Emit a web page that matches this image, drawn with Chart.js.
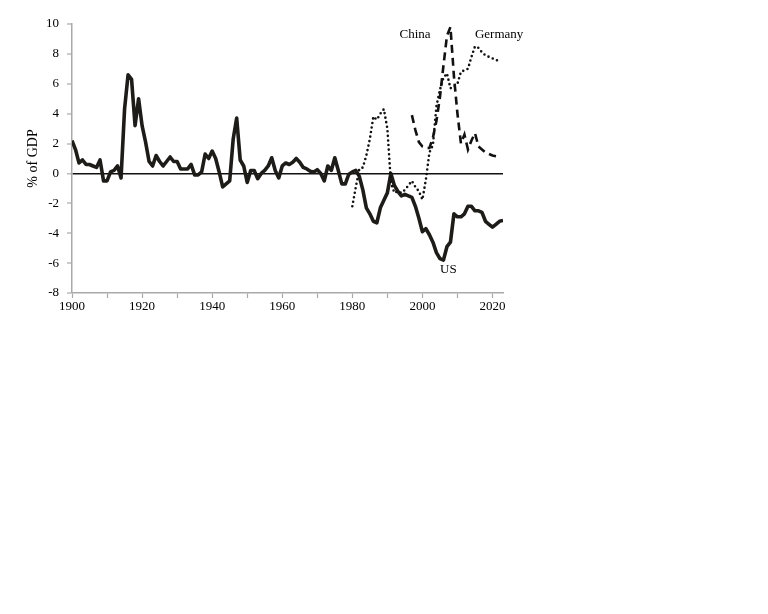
<!DOCTYPE html>
<html>
<head>
<meta charset="utf-8">
<script src="https://cdn.jsdelivr.net/npm/chart.js@4.4.1/dist/chart.umd.min.js"></script>
<style>
  html, body { margin: 0; padding: 0; background: #fff; }
  #chart { display: block; }
</style>
</head>
<body>
<canvas id="chart" width="768" height="614"></canvas>
<script>
// current account balance, % of GDP
const usStart = 1900;
const usValues = [
  2.2, 1.6, 0.7, 0.9, 0.6, 0.6, 0.5, 0.4, 0.9, -0.5,
  -0.5, 0.1, 0.2, 0.5, -0.3, 4.3, 6.6, 6.3, 3.2, 5.0,
  3.2, 2.1, 0.8, 0.5, 1.2, 0.8, 0.5, 0.8, 1.1, 0.8,
  0.8, 0.3, 0.3, 0.3, 0.6, -0.1, -0.1, 0.1, 1.3, 1.0,
  1.5, 1.0, 0.1, -0.9, -0.7, -0.5, 2.3, 3.7, 0.9, 0.5,
  -0.6, 0.2, 0.2, -0.35, 0.0, 0.2, 0.5, 1.05, 0.2, -0.3,
  0.5, 0.7, 0.6, 0.75, 1.0, 0.75, 0.4, 0.3, 0.15, 0.1,
  0.25, 0.0, -0.5, 0.5, 0.2, 1.05, 0.2, -0.7, -0.7, -0.05,
  0.1, 0.2, -0.2, -1.1, -2.3, -2.7, -3.2, -3.3, -2.3, -1.8,
  -1.3, 0.0, -0.8, -1.2, -1.5, -1.4, -1.5, -1.6, -2.2, -3.0,
  -3.9, -3.7, -4.1, -4.6, -5.3, -5.7, -5.8, -4.9, -4.6, -2.7,
  -2.9, -2.9, -2.7, -2.2, -2.2, -2.5, -2.5, -2.6, -3.2, -3.4,
  -3.6, -3.4, -3.2, -3.15
];

const germanyStart = 1980;
const germanyValues = [
  -2.2, -0.9, 0.3, 0.4, 1.2, 2.3, 3.8, 3.6, 4.0, 4.3,
  3.0, -0.6, -1.3, -1.2, -1.3, -1.1, -0.8, -0.5, -0.9, -1.2,
  -1.75, -0.4, 1.4, 1.9, 4.5, 5.6, 6.4, 6.7, 5.7, 5.8,
  6.0, 6.8, 6.9, 7.0, 7.8, 8.5, 8.4, 8.1, 7.9, 7.8,
  7.7, 7.6, 7.5
];

const chinaStart = 1997;
const chinaValues = [
  3.9, 2.9, 2.1, 1.8, 1.7, 1.7, 2.4, 3.5, 5.1, 7.2,
  9.2, 9.8, 6.5, 4.0, 2.0, 2.6, 1.6, 2.2, 2.7, 1.8,
  1.6, 1.4, 1.3, 1.2, 1.15
];

const yearTicks = [1900, 1920, 1940, 1960, 1980, 2000, 2020];

// series names written on the plot, at data coordinates
const seriesLabels = [
  { text: "China", year: 1997.9, value: 9.3 },
  { text: "Germany", year: 2021.9, value: 9.3 },
  { text: "US", year: 2007.4, value: -6.4 }
];

const serif = "'Liberation Serif', 'DejaVu Serif', serif";
const axisGray = "#a9a9a9";

function toPoints(start, values) {
  return values.map((v, i) => ({ x: start + i, y: v }));
}

const textPlugin = {
  id: "textLabels",
  afterDraw(chart) {
    const ctx = chart.ctx;
    const xs = chart.scales.x;
    const ys = chart.scales.y;
    ctx.save();
    ctx.fillStyle = "#000";
    ctx.font = "13px " + serif;
    ctx.textAlign = "center";
    ctx.textBaseline = "middle";
    seriesLabels.forEach((l) => {
      ctx.fillText(l.text, xs.getPixelForValue(l.year), ys.getPixelForValue(l.value));
    });
    // y axis title
    ctx.font = "14px " + serif;
    ctx.translate(33, (chart.chartArea.top + chart.chartArea.bottom) / 2);
    ctx.rotate(-Math.PI / 2);
    ctx.fillText("% of GDP", 0, 0);
    ctx.restore();
  },
};

new Chart(document.getElementById("chart").getContext("2d"), {
  type: "line",
  data: {
    datasets: [
      {
        label: "Germany",
        data: toPoints(germanyStart, germanyValues),
        borderColor: "#111",
        borderWidth: 2.6,
        borderDash: [0, 4.6],
        borderCapStyle: "round",
        pointRadius: 0,
        tension: 0,
      },
      {
        label: "China",
        data: toPoints(chinaStart, chinaValues),
        borderColor: "#111",
        borderWidth: 2.6,
        borderDash: [8, 5],
        pointRadius: 0,
        tension: 0,
      },
      {
        label: "US",
        data: toPoints(usStart, usValues),
        borderColor: "#1e1c18",
        borderWidth: 3.6,
        borderJoinStyle: "round",
        pointRadius: 0,
        tension: 0,
      },
    ],
  },
  options: {
    responsive: false,
    animation: false,
    events: [],
    layout: { padding: { left: 0, top: 24, right: 265, bottom: 291 } },
    scales: {
      x: {
        type: "linear",
        min: 1900,
        max: 2023,
        afterFit: (s) => { s.height = 30; },
        afterBuildTicks: (s) => {
          const t = [];
          for (let y = 1900; y <= 2020; y += 10) t.push({ value: y });
          s.ticks = t;
        },
        ticks: {
          autoSkip: false,
          maxRotation: 0,
          padding: 1,
          color: "#000",
          font: { family: serif, size: 13 },
          callback: (v) => (yearTicks.includes(v) ? String(v) : ""),
        },
        grid: {
          drawOnChartArea: false,
          drawTicks: true,
          tickLength: 5,
          tickColor: axisGray,
          tickWidth: 1.2,
        },
        border: { color: axisGray, width: 1.5 },
      },
      y: {
        min: -8,
        max: 10,
        afterFit: (s) => { s.width = 72; },
        ticks: {
          stepSize: 2,
          padding: 8,
          color: "#000",
          font: { family: serif, size: 13 },
        },
        grid: {
          drawTicks: true,
          tickLength: 5,
          tickColor: axisGray,
          tickWidth: 1.2,
          color: (c) => (c.tick && c.tick.value === 0 ? "#111" : "rgba(0,0,0,0)"),
          lineWidth: (c) => (c.tick && c.tick.value === 0 ? 1.6 : 0),
        },
        border: { color: axisGray, width: 1.5 },
      },
    },
    plugins: {
      legend: { display: false },
      tooltip: { enabled: false },
    },
  },
  plugins: [textPlugin],
});
</script>
</body>
</html>
